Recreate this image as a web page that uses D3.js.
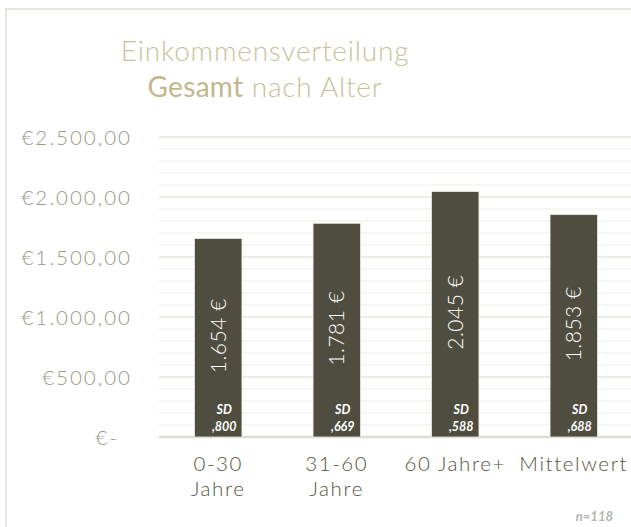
<!DOCTYPE html>
<html>
<head>
<meta charset="utf-8">
<script src="https://cdn.jsdelivr.net/npm/d3@7"></script>
<style>
  body { margin: 0; background: #fff; }
  text { font-family: "Lato", "Open Sans", sans-serif; }
</style>
</head>
<body>
<div id="chart"></div>
<script>
// data
const categories = ["0-30 Jahre", "31-60 Jahre", "60 Jahre+", "Mittelwert"];
const catLines = [["0-30", "Jahre"], ["31-60", "Jahre"], ["60 Jahre+"], ["Mittelwert"]];
const values = [1654, 1781, 2045, 1853];
const valueLabels = ["1.654 €", "1.781 €", "2.045 €", "1.853 €"];
const sdLabels = [",800", ",669", ",588", ",688"];
const yTicks = [0, 500, 1000, 1500, 2000, 2500];
const yTickLabels = ["€-", "€500,00", "€1.000,00", "€1.500,00", "€2.000,00", "€2.500,00"];
const minorTicks = d3.range(0, 2501, 100);
const sampleNote = "n=118";

const W = 631, H = 527;
const margin = { top: 137, right: -2, bottom: 90, left: 159 };

const svg = d3.select("#chart")
    .append("svg")
    .attr("width", W)
    .attr("height", H);

// outer frame
svg.append("rect")
    .attr("x", 6).attr("y", 9)
    .attr("width", W + 10).attr("height", H + 10)
    .attr("fill", "none")
    .attr("stroke", "#e6e6de")
    .attr("stroke-width", 2);

const x = d3.scaleBand()
    .domain(categories)
    .range([margin.left, W - margin.right])
    .paddingInner(0.6)
    .paddingOuter(0.3);

const y = d3.scaleLinear()
    .domain([0, 2500])
    .range([H - margin.bottom, margin.top]);

// title
const title = svg.append("text")
    .attr("x", 265)
    .attr("text-anchor", "middle")
    .attr("fill", "#c9bf9b")
    .attr("font-size", "28px")
    .attr("font-weight", 300)
    .attr("letter-spacing", "0.8px");
title.append("tspan").attr("x", 265).attr("y", 61).text("Einkommensverteilung");
const t2 = title.append("tspan").attr("x", 265).attr("y", 97);
t2.append("tspan").attr("font-weight", 400).attr("fill", "#c2b68c").attr("letter-spacing", "0.3px").text("Gesamt");
t2.append("tspan").text(" nach Alter");

// minor gridlines
svg.append("g")
    .selectAll("line")
    .data(minorTicks.filter(d => d % 500 !== 0))
    .enter().append("line")
    .attr("x1", margin.left).attr("x2", W)
    .attr("y1", d => y(d)).attr("y2", d => y(d))
    .attr("stroke", "#f3f3ef")
    .attr("stroke-width", 1.5);

// major gridlines
svg.append("g")
    .selectAll("line")
    .data(yTicks)
    .enter().append("line")
    .attr("x1", margin.left).attr("x2", W)
    .attr("y1", d => y(d)).attr("y2", d => y(d))
    .attr("stroke", d => d === 0 ? "#dcdcd3" : "#e6e6df")
    .attr("stroke-width", d => d === 0 ? 2.5 : 1.5);

// y axis labels
const yAxis = d3.axisLeft(y)
    .tickValues(yTicks)
    .tickFormat((d, i) => yTickLabels[i])
    .tickSize(0)
    .tickPadding(0);
const gy = svg.append("g")
    .attr("transform", "translate(132,0)")
    .call(yAxis);
gy.select(".domain").remove();
gy.selectAll("text")
    .attr("fill", "#9a9983")
    .attr("font-size", "20.5px")
    .attr("font-family", "Lato, sans-serif")
    .attr("font-weight", 300)
    .attr("letter-spacing", "2px")
    .attr("dy", "0.35em");
gy.selectAll(".tick").filter(d => d === 0).select("text").attr("dx", "-13px");

// bars
svg.append("g")
    .selectAll("rect")
    .data(values)
    .enter().append("rect")
    .attr("x", (d, i) => x(categories[i]))
    .attr("y", d => y(d))
    .attr("width", x.bandwidth())
    .attr("height", d => y(0) - y(d))
    .attr("fill", "#4e4d3f")
    .attr("stroke", "#e8e8e0")
    .attr("stroke-width", 0.8);

// value labels (rotated)
svg.append("g")
    .selectAll("text")
    .data(values)
    .enter().append("text")
    .attr("transform", (d, i) => {
        const cx = x(categories[i]) + x.bandwidth() / 2;
        const cy = (y(d) + y(0)) / 2 - 2;
        return `translate(${cx},${cy}) rotate(-90)`;
    })
    .attr("text-anchor", "middle")
    .attr("dy", "0.35em")
    .attr("fill", "#ffffff")
    .attr("font-size", "21px")
    .attr("font-weight", 300)
    .attr("letter-spacing", "0.5px")
    .text((d, i) => valueLabels[i]);

// SD labels
const sd = svg.append("g")
    .selectAll("text")
    .data(sdLabels)
    .enter().append("text")
    .attr("text-anchor", "middle")
    .attr("fill", "#ffffff")
    .attr("font-family", "'Open Sans', sans-serif")
    .attr("font-size", "12.5px")
    .attr("font-weight", 700)
    .attr("font-style", "italic");
sd.append("tspan").attr("x", (d, i) => x(categories[i]) + x.bandwidth() / 2 + 6).attr("y", 414).text("SD");
sd.append("tspan").attr("x", (d, i) => x(categories[i]) + x.bandwidth() / 2 + 6).attr("y", 431).text(d => d);

// x axis labels
const xl = svg.append("g")
    .selectAll("text")
    .data(categories)
    .enter().append("text")
    .attr("text-anchor", "middle")
    .attr("fill", "#55543f")
    .attr("font-size", "20.5px")
    .attr("font-weight", 300)
    .attr("letter-spacing", "1.6px");
xl.each(function (d, i) {
    const cx = x(d) + x.bandwidth() / 2;
    catLines[i].forEach((line, j) => {
        d3.select(this).append("tspan")
            .attr("x", cx)
            .attr("y", 471 + j * 25)
            .text(line);
    });
});

// sample size note
svg.append("text")
    .attr("x", 613)
    .attr("y", 521)
    .attr("text-anchor", "end")
    .attr("fill", "#b4b4b0")
    .attr("font-family", "'Open Sans', sans-serif")
    .attr("font-size", "13px")
    .attr("font-weight", 700)
    .attr("font-style", "italic")
    .text(sampleNote);
</script>
</body>
</html>
